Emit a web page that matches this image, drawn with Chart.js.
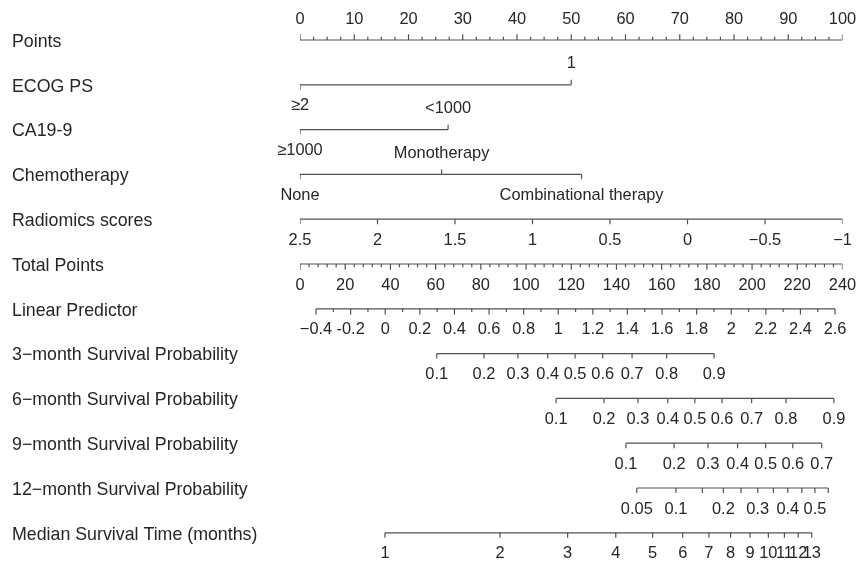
<!DOCTYPE html>
<html>
<head>
<meta charset="utf-8">
<script src="https://cdn.jsdelivr.net/npm/chart.js@4.4.0/dist/chart.umd.min.js"></script>
<style>
  html, body { margin: 0; padding: 0; background: #fff; }
</style>
</head>
<body>
<canvas id="nomogram" width="856" height="562"></canvas>
<script>
// ---- data ----
const rowNames = ['Points', 'ECOG PS', 'CA19-9', 'Chemotherapy', 'Radiomics scores', 'Total Points',
    'Linear Predictor', '3\u2212month Survival Probability', '6\u2212month Survival Probability',
    '9\u2212month Survival Probability', '12\u2212month Survival Probability', 'Median Survival Time (months)'];

const pointTicks = [0, 10, 20, 30, 40, 50, 60, 70, 80, 90, 100];

const ecogLevels = ['\u22652', '1'];
const ecogPoints = [0, 50];

const caLevels = ['\u22651000', '<1000'];
const caPoints = [0, 27.3];

const chemoLevels = ['None', 'Monotherapy', 'Combinational therapy'];
const chemoPoints = [0, 26.1, 51.9];

const radiomicsValues = [2.5, 2, 1.5, 1, 0.5, 0, -0.5, -1];
const radiomicsLabels = ['2.5', '2', '1.5', '1', '0.5', '0', '\u22120.5', '\u22121'];

const totalTicks = [0, 20, 40, 60, 80, 100, 120, 140, 160, 180, 200, 220, 240];

const lpValues = [-0.4, -0.2, 0, 0.2, 0.4, 0.6, 0.8, 1, 1.2, 1.4, 1.6, 1.8, 2, 2.2, 2.4, 2.6];
const lpLabels = ['\u22120.4', '-0.2', '0', '0.2', '0.4', '0.6', '0.8', '1', '1.2', '1.4', '1.6', '1.8', '2', '2.2', '2.4', '2.6'];
const lpRange = [-0.4, 2.6];        // linear predictor ...
const lpTotalRange = [7.1, 236.7];  // ... at these total points

// survival probabilities and the total points where they fall
const surv3Values = [0.1, 0.2, 0.3, 0.4, 0.5, 0.6, 0.7, 0.8, 0.9];
const surv3Total = [60.5, 81.4, 96.4, 109.6, 121.7, 133.9, 146.9, 162.2, 183.2];

const surv6Values = [0.1, 0.2, 0.3, 0.4, 0.5, 0.6, 0.7, 0.8, 0.9];
const surv6Total = [113.3, 134.5, 149.5, 162.7, 174.7, 186.7, 199.8, 215.0, 236.2];

const surv9Values = [0.1, 0.2, 0.3, 0.4, 0.5, 0.6, 0.7];
const surv9Total = [144.2, 165.5, 180.5, 193.6, 206.0, 218.0, 230.8];

const surv12Values = [0.05, 0.1, 0.15, 0.2, 0.25, 0.3, 0.35, 0.4, 0.45, 0.5, 0.55];
const surv12Labels = ['0.05', '0.1', '', '0.2', '', '0.3', '', '0.4', '', '0.5', ''];
const surv12Total = [149.0, 166.3, 178.0, 187.3, 195.1, 202.5, 209.4, 215.8, 222.0, 227.8, 233.7];

const medianValues = [1, 2, 3, 4, 5, 6, 7, 8, 9, 10, 11, 12, 13];
const medianTotal = [37.6, 88.5, 118.4, 139.7, 156.0, 169.3, 180.9, 190.5, 199.1, 207.2, 214.3, 220.4, 226.4];

// ---- build rows ----
const MAX_TOTAL = 240;
const LINE_COLOR = '#505050';
const TEXT_COLOR = '#262626';
const MAJOR = 0.13, MINOR = 0.07, LEVEL = 0.11;   // tick length in row units

const fromTotal = (t) => t * 100 / MAX_TOTAL;
const fromLP = (v) => fromTotal(lpTotalRange[0] + (v - lpRange[0]) * (lpTotalRange[1] - lpTotalRange[0]) / (lpRange[1] - lpRange[0]));
const fromRadiomics = (v) => (2.5 - v) / 3.5 * 100;

// every row: list of ticks {p: position in points, label, side: -1 above / 1 below, len}
const rows = [];

function axisTicks(positions, labels, side, len) {
    return positions.map((p, i) => ({ p: p, label: labels[i], side: side, len: len }));
}

function minorTicks(from, to, step, conv, side) {
    const out = [];
    for (let v = from; v <= to + 1e-9; v += step) {
        out.push({ p: conv(v), label: '', side: side, len: MINOR });
    }
    return out;
}

rows.push(axisTicks(pointTicks, pointTicks.map(String), -1, MAJOR)
    .concat(minorTicks(0, 100, 2.5, (v) => v, -1)));
rows.push(axisTicks(ecogPoints, ecogLevels, 1, LEVEL).map((t, i) => Object.assign(t, { side: i === 0 ? 1 : -1 })));
rows.push(axisTicks(caPoints, caLevels, 1, LEVEL).map((t, i) => Object.assign(t, { side: i === 0 ? 1 : -1 })));
rows.push(axisTicks(chemoPoints, chemoLevels, 1, LEVEL).map((t, i) => Object.assign(t, { side: i === 1 ? -1 : 1 })));
rows.push(axisTicks(radiomicsValues.map(fromRadiomics), radiomicsLabels, 1, LEVEL));
rows.push(axisTicks(totalTicks.map(fromTotal), totalTicks.map(String), 1, MAJOR)
    .concat(minorTicks(0, 240, 4, fromTotal, 1)));
rows.push(axisTicks(lpValues.map(fromLP), lpLabels, 1, MAJOR)
    .concat(minorTicks(-0.3, 2.5, 0.2, fromLP, 1)));
rows.push(axisTicks(surv3Total.map(fromTotal), surv3Values.map(String), 1, LEVEL));
rows.push(axisTicks(surv6Total.map(fromTotal), surv6Values.map(String), 1, LEVEL));
rows.push(axisTicks(surv9Total.map(fromTotal), surv9Values.map(String), 1, LEVEL));
rows.push(axisTicks(surv12Total.map(fromTotal), surv12Labels, 1, LEVEL));
rows.push(axisTicks(medianTotal.map(fromTotal), medianValues.map(String), 1, LEVEL));

const datasets = [];
rows.forEach((ticks, r) => {
    const ps = ticks.map(t => t.p);
    datasets.push({
        data: [{ x: Math.min(...ps), y: r }, { x: Math.max(...ps), y: r }],
        borderColor: LINE_COLOR, borderWidth: 1.2, pointRadius: 0
    });
    const seg = [];
    ticks.forEach(t => {
        seg.push({ x: t.p, y: r }, { x: t.p, y: r + t.side * t.len }, { x: t.p, y: null });
    });
    datasets.push({
        data: seg, borderColor: LINE_COLOR, borderWidth: 1.2, pointRadius: 0, spanGaps: false
    });
});

const labelPlugin = {
    id: 'labelPlugin',
    afterDatasetsDraw(chart) {
        const ctx = chart.ctx;
        const xs = chart.scales.x, ys = chart.scales.y;
        ctx.save();
        ctx.fillStyle = TEXT_COLOR;
        ctx.textBaseline = 'middle';
        ctx.font = '17.8px "Liberation Sans", Arial, sans-serif';
        ctx.textAlign = 'left';
        rowNames.forEach((name, r) => {
            ctx.fillText(name, 12, ys.getPixelForValue(r) + 2);
        });
        ctx.font = '16.4px "Liberation Sans", Arial, sans-serif';
        ctx.textAlign = 'center';
        rows.forEach((ticks, r) => {
            const y0 = ys.getPixelForValue(r);
            ticks.forEach(t => {
                if (!t.label) return;
                ctx.fillText(t.label, xs.getPixelForValue(t.p), y0 + t.side * 21);
            });
        });
        ctx.restore();
    }
};

new Chart(document.getElementById('nomogram').getContext('2d'), {
    type: 'line',
    data: { datasets: datasets },
    plugins: [labelPlugin],
    options: {
        responsive: false,
        animation: false,
        layout: { padding: { left: 300, right: 13.5, top: 17.6, bottom: 6.8 } },
        plugins: { legend: { display: false }, tooltip: { enabled: false } },
        scales: {
            x: { type: 'linear', min: 0, max: 100, display: false },
            y: { type: 'linear', min: -0.5, max: 11.5, reverse: true, display: false }
        }
    }
});
</script>
</body>
</html>
